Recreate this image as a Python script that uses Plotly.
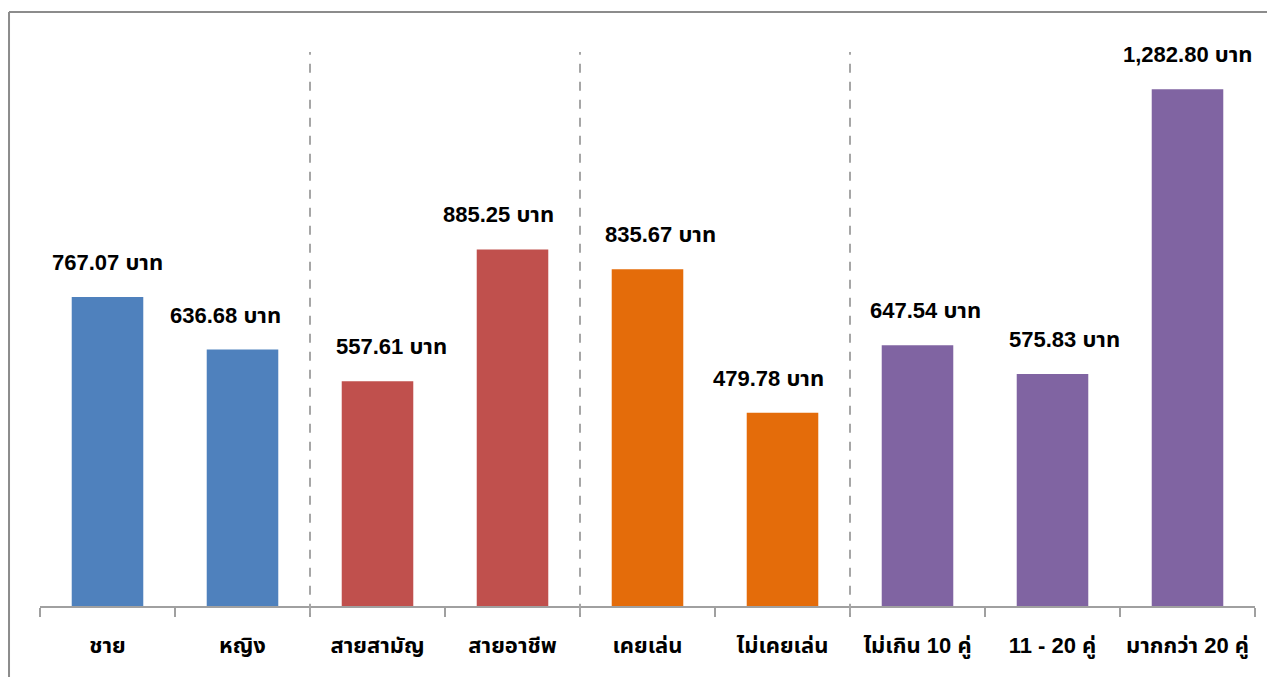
"""ค่าใช้จ่ายเฉลี่ย แยกตามกลุ่ม: แท่ง + ป้ายค่า"""

import plotly.graph_objects as go

categories = ["ชาย", "หญิง", "สายสามัญ", "สายอาชีพ", "เคยเล่น", "ไม่เคยเล่น",
              "ไม่เกิน 10 คู่", "11 - 20 คู่", "มากกว่า 20 คู่"]
values = [767.07, 636.68, 557.61, 885.25, 835.67, 479.78, 647.54, 575.83, 1282.80]
groups = ["เพศ", "เพศ", "สาย", "สาย", "การเล่น", "การเล่น", "จำนวนคู่", "จำนวนคู่", "จำนวนคู่"]

GROUP_COLORS = {"เพศ": "#4F81BD", "สาย": "#C0504D", "การเล่น": "#E46C0A", "จำนวนคู่": "#8064A2"}
LABEL_SHIFT = [0, -17, 14, -14, 13, -14, 8, 12, 0]
FONT = "Liberation Sans, Arial, Tahoma, Noto Sans Thai, sans-serif"

fig = go.Figure()
fig.add_trace(go.Bar(
    x=categories, y=values,
    marker=dict(color=[GROUP_COLORS[g] for g in groups], line=dict(width=0)),
    width=0.53,
    hoverinfo="x+y",
))

for i, (c, v) in enumerate(zip(categories, values)):
    fig.add_annotation(
        x=c, y=v, text=f"<b>{v:,.2f} บาท</b>", showarrow=False,
        yanchor="bottom", yshift=20, xshift=LABEL_SHIFT[i],
        font=dict(size=22, color="#000000", family=FONT),
    )

# เส้นประคั่นกลุ่ม
for xpos in [1.5, 3.5, 5.5]:
    fig.add_shape(type="line", xref="x", yref="paper", x0=xpos, x1=xpos,
                  y0=-0.012, y1=0.979, line=dict(color="#A6A6A6", width=2, dash="dash"))

# กรอบ (ด้านบน/ซ้าย)
fig.add_shape(type="line", xref="paper", yref="paper", x0=-0.0255, x1=1.05,
              y0=1.0495, y1=1.0495, line=dict(color="#8C8C8C", width=2))
fig.add_shape(type="line", xref="paper", yref="paper", x0=-0.0255, x1=-0.0255,
              y0=-0.2, y1=1.0495, line=dict(color="#8C8C8C", width=2))

fig.update_layout(
    width=1275, height=677,
    margin=dict(l=32, r=28, t=32, b=79),
    paper_bgcolor="white", plot_bgcolor="white",
    showlegend=False,
    bargap=0.47,
    font=dict(family=FONT),
    xaxis=dict(
        showline=True, linecolor="#A0A0A0", linewidth=2,
        ticks="outside", tickson="boundaries", ticklen=9, tickcolor="#A0A0A0", tickwidth=2,
        tickfont=dict(size=22, color="#000000", family=FONT, weight="bold"),
        tickangle=0, automargin=False,
        ticklabelstandoff=19,
        showgrid=False,
    ),
    yaxis=dict(range=[0, 1405], visible=False, showgrid=False, zeroline=False),
)

fig.write_html("out.html")
